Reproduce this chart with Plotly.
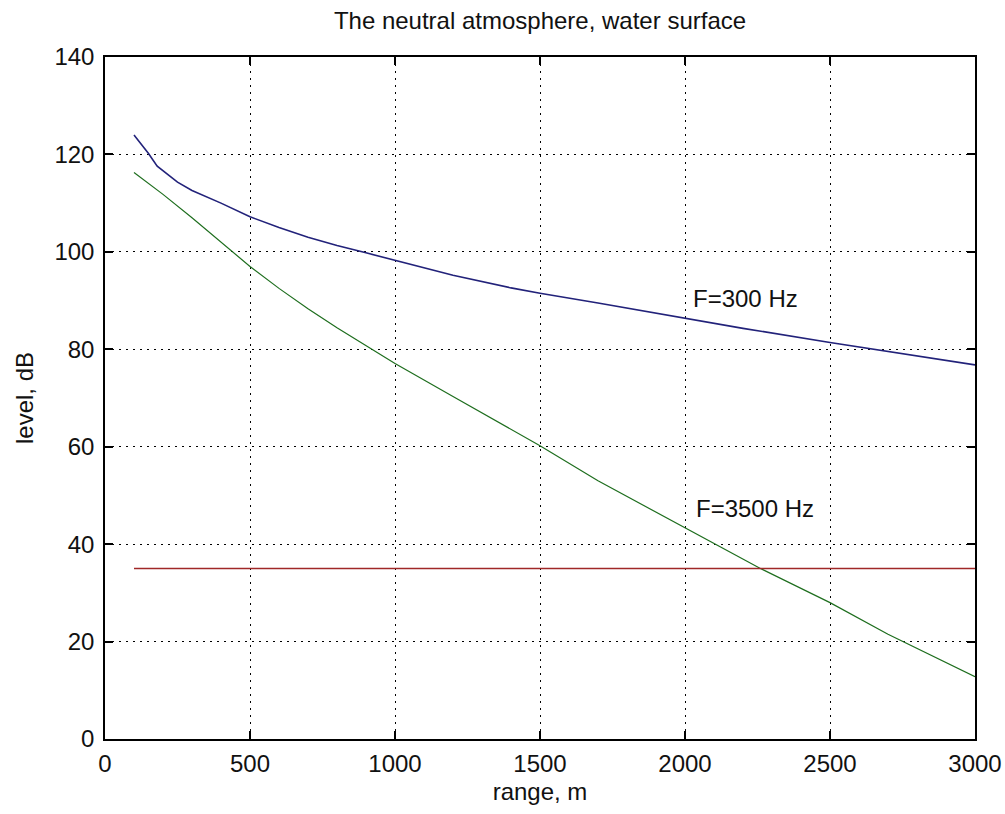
import plotly.graph_objects as go

range_m = [100, 150, 180, 250, 300, 400, 500, 600, 700, 800, 900, 1000, 1200, 1400, 1500, 1700, 2000, 2200, 2500, 2800, 3000]
level_300 = [124.0, 120.2, 117.6, 114.3, 112.6, 110.0, 107.2, 105.0, 103.0, 101.3, 99.8, 98.3, 95.2, 92.6, 91.5, 89.5, 86.4, 84.3, 81.4, 78.7, 76.8]

range_g = [100, 200, 300, 400, 500, 600, 700, 800, 900, 1000, 1200, 1400, 1500, 1700, 2000, 2200, 2260, 2500, 2700, 3000]
level_3500 = [116.3, 111.8, 107.0, 102.0, 97.0, 92.5, 88.3, 84.4, 80.7, 77.1, 70.3, 63.5, 60.2, 53.0, 43.3, 37.0, 35.0, 28.0, 21.5, 12.8]

threshold_x = [100, 3000]
threshold_y = [35, 35]

labels = ["F=300 Hz", "F=3500 Hz"]
label_x = [2020, 2030]
label_y = [90.5, 47.4]

x_ticks = [0, 500, 1000, 1500, 2000, 2500, 3000]
y_ticks = [0, 20, 40, 60, 80, 100, 120, 140]

font = "Liberation Sans, Arial, sans-serif"
fs = 24
fc = "#111111"

fig = go.Figure()
fig.add_trace(go.Scatter(x=range_m, y=level_300, mode="lines",
                         line=dict(color="#22227a", width=1.6), showlegend=False))
fig.add_trace(go.Scatter(x=range_g, y=level_3500, mode="lines",
                         line=dict(color="#1e6e1e", width=1.2), showlegend=False))
fig.add_trace(go.Scatter(x=threshold_x, y=threshold_y, mode="lines",
                         line=dict(color="#a02828", width=1.4), showlegend=False))

for t, xx, yy in zip(labels, label_x, label_y):
    fig.add_annotation(x=xx, y=yy, text=t, showarrow=False, xanchor="left",
                       yanchor="middle", font=dict(family=font, size=fs, color=fc))

axis_common = dict(showline=True, linecolor="black", linewidth=1.5, mirror="allticks",
                   ticks="inside", ticklen=8, tickcolor="black", tickwidth=1.5,
                   showgrid=True, gridcolor="black", gridwidth=1, griddash="2px,5px",
                   zeroline=False, automargin=False,
                   tickfont=dict(family=font, size=fs, color=fc))

fig.update_xaxes(range=[0, 3000], tickvals=x_ticks, ticktext=[str(v) for v in x_ticks],
                 title=dict(text="range, m", font=dict(family=font, size=fs, color=fc), standoff=8),
                 ticklabelstandoff=2, **axis_common)
fig.update_yaxes(range=[0, 140], tickvals=y_ticks, ticktext=[str(v) for v in y_ticks],
                 title=dict(text="level, dB", font=dict(family=font, size=fs, color=fc), standoff=14),
                 ticklabelstandoff=4, **axis_common)

fig.update_layout(
    width=1005, height=814,
    margin=dict(l=105, r=30, t=57, b=75),
    paper_bgcolor="white", plot_bgcolor="white",
    title=dict(text="The neutral atmosphere, water surface", x=0.5373, xanchor="center",
               y=0.975, yanchor="middle", font=dict(family=font, size=fs, color=fc)),
)

fig.write_html("out.html")
